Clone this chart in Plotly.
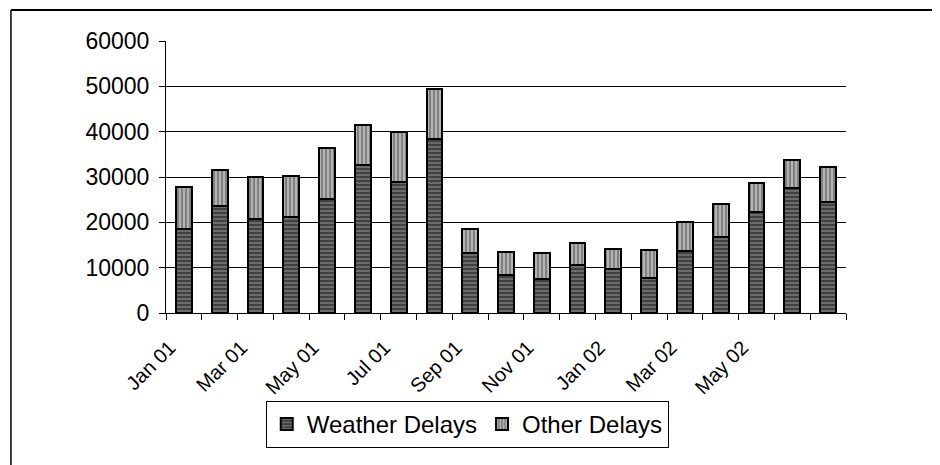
import plotly.graph_objects as go

months = ["Jan 01", "Feb 01", "Mar 01", "Apr 01", "May 01", "Jun 01", "Jul 01",
          "Aug 01", "Sep 01", "Oct 01", "Nov 01", "Dec 01", "Jan 02", "Feb 02",
          "Mar 02", "Apr 02", "May 02", "Jun 02", "Jul 02"]
tick_labels = ["Jan 01", "", "Mar 01", "", "May 01", "", "Jul 01", "", "Sep 01", "",
               "Nov 01", "", "Jan 02", "", "Mar 02", "", "May 02", "", ""]
weather_delays = [18500, 23600, 20800, 21100, 25100, 32700, 28900, 38400, 13300, 8400,
                  7500, 10600, 9700, 7800, 13600, 16700, 22300, 27500, 24400]
other_delays = [9400, 7900, 9200, 9100, 11400, 8800, 11100, 11000, 5200, 5000,
                5700, 4900, 4500, 6100, 6400, 7400, 6300, 6300, 7900]
y_ticks = [0, 10000, 20000, 30000, 40000, 50000, 60000]

FONT = "Arial, 'Liberation Sans', sans-serif"

fig = go.Figure()
fig.add_trace(go.Bar(
    x=months, y=weather_delays, name="Weather Delays",
    marker=dict(color="#404040",
                line=dict(color="black", width=2),
                pattern=dict(shape="-", fgcolor="#cfcfcf", bgcolor="#404040",
                             size=4, solidity=0.3)),
))
fig.add_trace(go.Bar(
    x=months, y=other_delays, name="Other Delays",
    marker=dict(color="#9a9a9a",
                line=dict(color="black", width=2),
                pattern=dict(shape="|", fgcolor="#ffffff", bgcolor="#808080",
                             size=4, solidity=0.4)),
))

fig.update_layout(
    width=932, height=457,
    barmode="stack", bargap=0.56,
    paper_bgcolor="white", plot_bgcolor="white",
    margin=dict(l=158, r=94, t=33, b=152, autoexpand=False),
    font=dict(family=FONT, color="black"),
    showlegend=True,
    legend=dict(orientation="h", x=0.443, xanchor="center", y=-0.3235, yanchor="top",
                bordercolor="black", borderwidth=1, bgcolor="white",
                font=dict(size=24, family=FONT), traceorder="normal",
                itemwidth=30, tracegroupgap=0),
    shapes=[
        dict(type="line", xref="paper", yref="paper", x0=-0.228, x1=1.2,
             y0=1.114, y1=1.114, line=dict(color="black", width=2)),
        dict(type="line", xref="paper", yref="paper", x0=-0.228, x1=-0.228,
             y0=1.114, y1=-0.7, line=dict(color="black", width=1.5)),
    ],
)

fig.update_xaxes(
    type="category", tickmode="array", tickvals=months, ticktext=tick_labels,
    tickson="boundaries", ticks="outside", ticklen=6, tickcolor="black",
    showline=True, linecolor="black", linewidth=1, showgrid=False,
    tickangle=-45, tickfont=dict(size=20, family=FONT),
    ticklabelstandoff=14, ticklabelshift=-14,
)
fig.update_yaxes(
    range=[0, 60000], tickmode="array", tickvals=y_ticks, tickformat="d",
    ticks="outside", ticklen=6, tickcolor="black",
    showline=True, linecolor="black", linewidth=1,
    showgrid=True, gridcolor="black", gridwidth=1, zeroline=False,
    tickfont=dict(size=23, family=FONT), ticklabelstandoff=5,
)

fig.write_html("out.html")
